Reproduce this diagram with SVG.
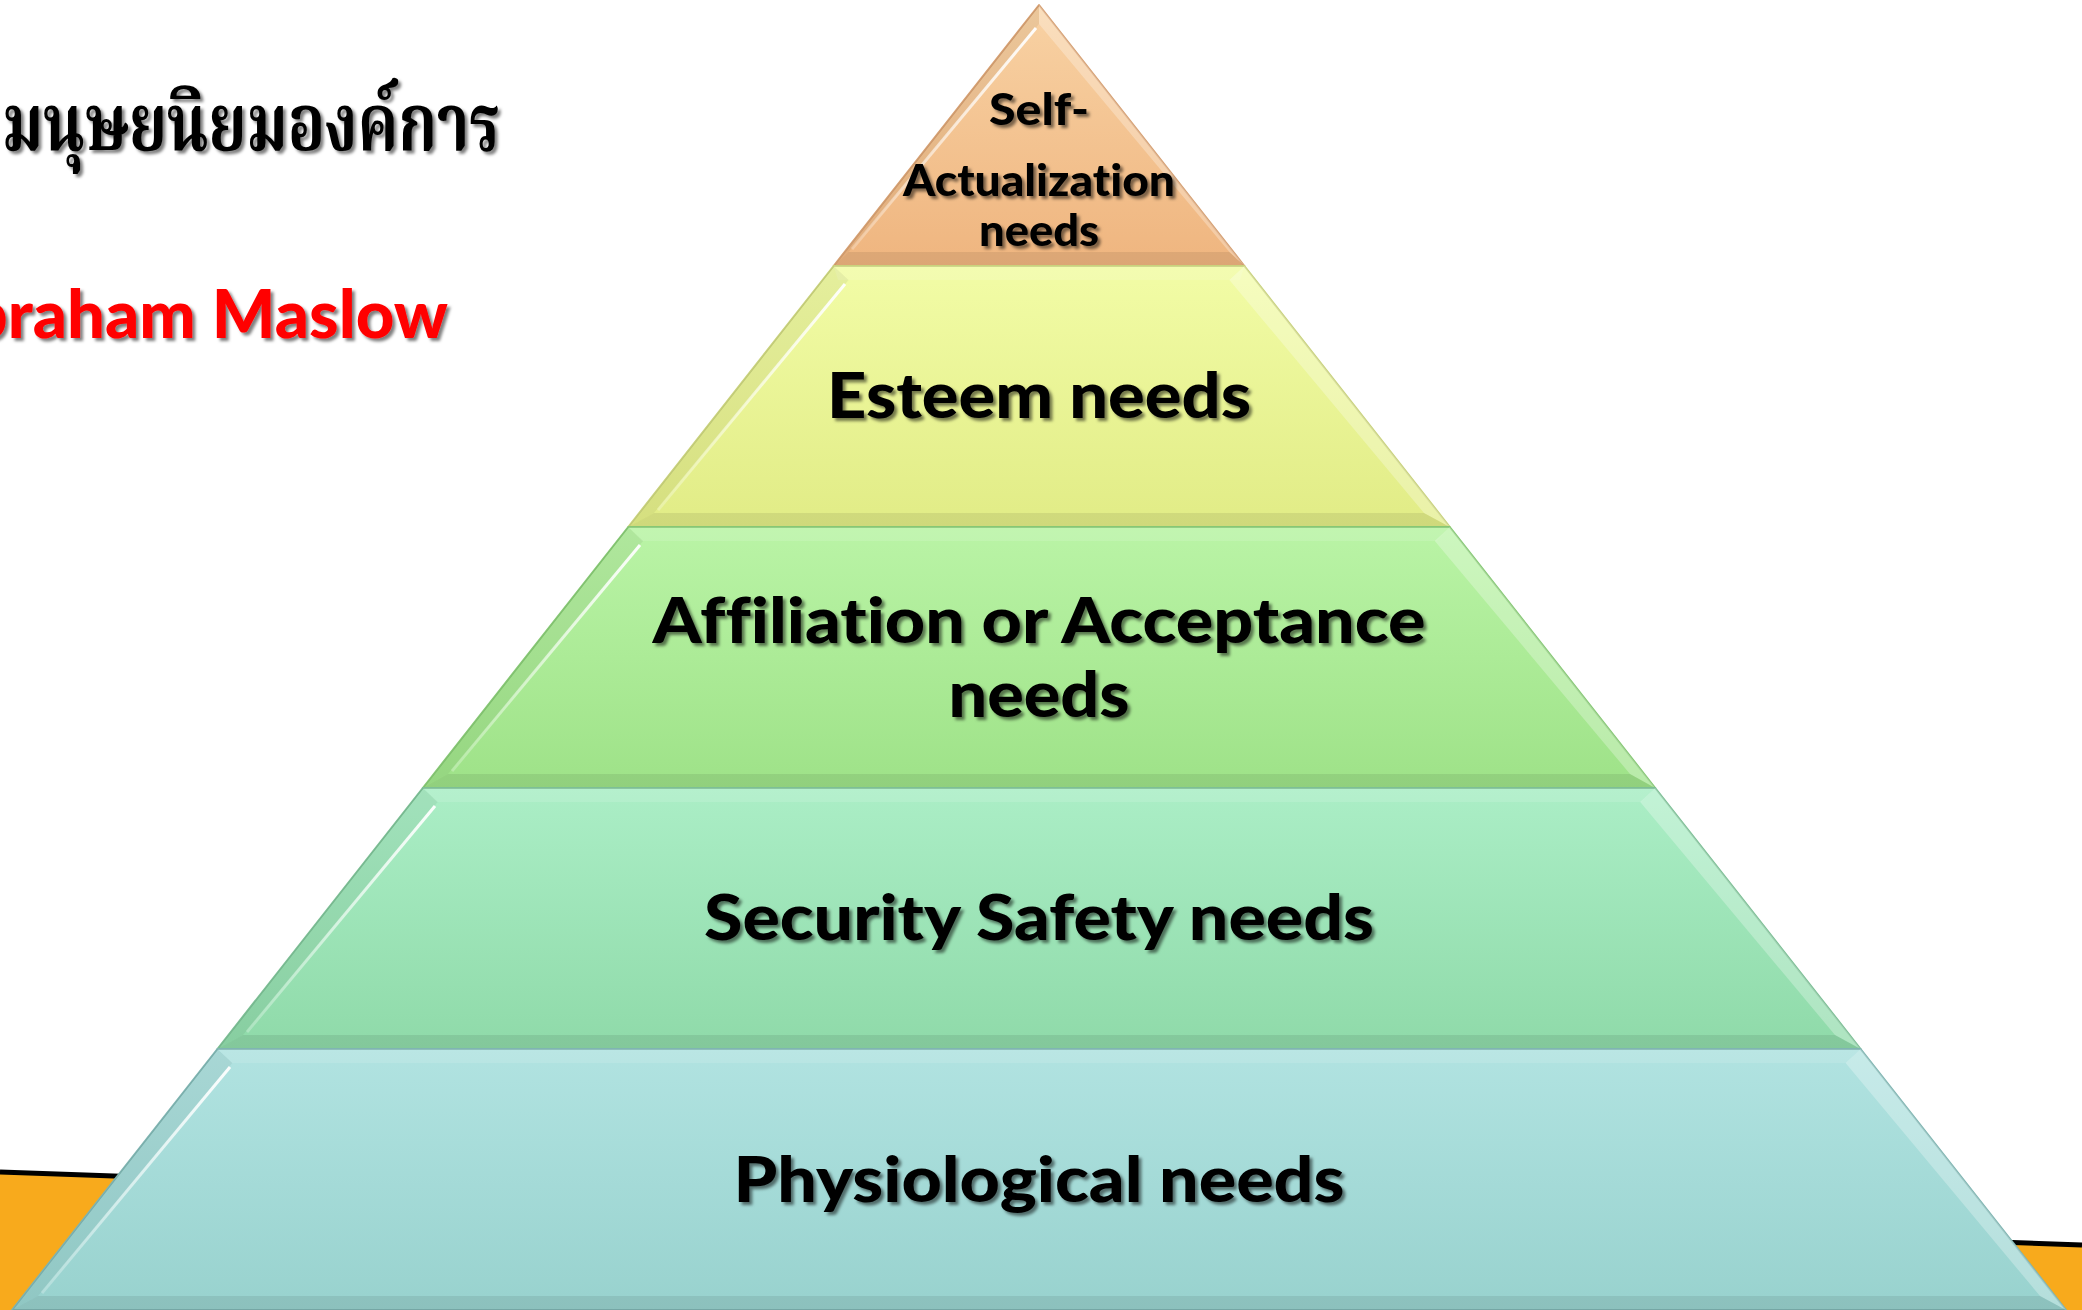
<svg xmlns="http://www.w3.org/2000/svg" width="2082" height="1310" viewBox="0 0 2082 1310">
<defs>
  <linearGradient id="gOrange" x1="0" y1="0" x2="0" y2="1"><stop offset="0" stop-color="#F8D2A4"/><stop offset="1" stop-color="#EFB57F"/></linearGradient>
  <linearGradient id="gYellow" x1="0" y1="0" x2="0" y2="1"><stop offset="0" stop-color="#F2FCA6"/><stop offset="1" stop-color="#E1EC86"/></linearGradient>
  <linearGradient id="gLime" x1="0" y1="0" x2="0" y2="1"><stop offset="0" stop-color="#BAF4A6"/><stop offset="1" stop-color="#9EE288"/></linearGradient>
  <linearGradient id="gMint" x1="0" y1="0" x2="0" y2="1"><stop offset="0" stop-color="#ABEEC6"/><stop offset="1" stop-color="#8FDAA9"/></linearGradient>
  <linearGradient id="gTeal" x1="0" y1="0" x2="0" y2="1"><stop offset="0" stop-color="#B1E3E1"/><stop offset="1" stop-color="#98D2CE"/></linearGradient>
  <linearGradient id="gHi" x1="0" y1="0" x2="0" y2="1"><stop offset="0" stop-color="#fff" stop-opacity="0.95"/><stop offset="1" stop-color="#fff" stop-opacity="0.25"/></linearGradient>
  <filter id="ts" x="-10%" y="-30%" width="120%" height="160%">
    <feDropShadow dx="3" dy="3" stdDeviation="1.8" flood-color="#000" flood-opacity="0.5"/>
  </filter>
  <style>
    .outline{stroke-width:2;stroke-linejoin:round}
    .lbevel{fill:#000;fill-opacity:0.05}
    .rbevel{fill:#fff;fill-opacity:0.28}
    .bbevel{fill:#000;fill-opacity:0.08}
    .tbevel{fill:#fff;fill-opacity:0.12}
    .hi{fill:none;stroke:url(#gHi);stroke-width:3}
    .lbl{font-family:Lato,"Liberation Sans",sans-serif;font-weight:900;fill:#000;text-anchor:middle;filter:url(#ts);font-variant-ligatures:none;font-feature-settings:"liga" 0}
    .big{font-size:62px}
    .small{font-size:44px}
  </style>
</defs>
<rect width="2082" height="1310" fill="#FFFFFF"/>
<g id="background-band">
  <polygon points="0,1172 2082,1245 2082,1310 0,1310" fill="#F8AA1C"/>
  <line x1="0" y1="1172" x2="2082" y2="1245" stroke="#000" stroke-width="5"/>
</g>
<g id="title">
  <text x="2" y="150" textLength="498" lengthAdjust="spacingAndGlyphs" font-family="'Noto Serif Thai','Noto Sans Thai','Tlwg Typo',Garuda,Loma,'DejaVu Serif',serif" font-weight="bold" font-size="80" fill="#000" filter="url(#ts)">มนุษยนิยมองค์การ</text>
  <text x="448" y="338" text-anchor="end" font-family="Lato,'Liberation Sans',sans-serif" font-weight="900" font-size="67" fill="#FF0000" filter="url(#ts)">Abraham Maslow</text>
</g>
<g id="connectors"/>
<g id="self-actualization">
  <polygon class="outline" points="1039,5 1244.4,266 833.6,266" fill="url(#gOrange)" stroke="#D6A072"/>
  <polygon class="lbevel" points="1039,5 1039,24 848.6,252 833.6,266"/>
  <polygon class="rbevel" points="1039,5 1039,24 1229.4,252 1244.4,266"/>
  <polygon class="bbevel" points="833.6,266 848.6,252 1229.4,252 1244.4,266"/>
  <line class="hi" x1="1036" y1="28" x2="852" y2="249"/>
  <text class="lbl small" x="1039" y="125" textLength="100" lengthAdjust="spacingAndGlyphs">Self-</text>
  <text class="lbl small" x="1039" y="196" textLength="272" lengthAdjust="spacingAndGlyphs">Actualization</text>
  <text class="lbl small" x="1039" y="246" textLength="120" lengthAdjust="spacingAndGlyphs">needs</text>
</g>
<g id="esteem">
  <polygon class="outline" points="833.6,266 1244.4,266 1449.8,527 628.2,527" fill="url(#gYellow)" stroke="#C9D27C"/>
  <polygon class="tbevel" points="833.6,266 1244.4,266 1240,280 838,280"/>
  <polygon class="lbevel" points="833.6,266 848.6,280 654,513 628.2,527"/>
  <polygon class="rbevel" points="1244.4,266 1229.4,280 1424,513 1449.8,527"/>
  <polygon class="bbevel" points="628.2,527 654,513 1424,513 1449.8,527"/>
  <line class="hi" x1="845" y1="284" x2="658" y2="510"/>
  <text class="lbl big" x="1039" y="418" textLength="424" lengthAdjust="spacingAndGlyphs">Esteem needs</text>
</g>
<g id="affiliation">
  <polygon class="outline" points="628.2,527 1449.8,527 1655.2,788 422.8,788" fill="url(#gLime)" stroke="#86C874"/>
  <polygon class="tbevel" points="628.2,527 1449.8,527 1436,541 642,541"/>
  <polygon class="lbevel" points="628.2,527 643.2,541 448,774 422.8,788"/>
  <polygon class="rbevel" points="1449.8,527 1434.8,541 1630,774 1655.2,788"/>
  <polygon class="bbevel" points="422.8,788 448,774 1630,774 1655.2,788"/>
  <line class="hi" x1="640" y1="545" x2="452" y2="771"/>
  <text class="lbl big" x="1039" y="643" textLength="773" lengthAdjust="spacingAndGlyphs">Affiliation or Acceptance</text>
  <text class="lbl big" x="1039" y="717" textLength="181" lengthAdjust="spacingAndGlyphs">needs</text>
</g>
<g id="security">
  <polygon class="outline" points="422.8,788 1655.2,788 1860.6,1049 217.4,1049" fill="url(#gMint)" stroke="#7CBF95"/>
  <polygon class="tbevel" points="422.8,788 1655.2,788 1641,802 437,802"/>
  <polygon class="lbevel" points="422.8,788 437.8,802 243,1035 217.4,1049"/>
  <polygon class="rbevel" points="1655.2,788 1640.2,802 1835,1035 1860.6,1049"/>
  <polygon class="bbevel" points="217.4,1049 243,1035 1835,1035 1860.6,1049"/>
  <line class="hi" x1="435" y1="806" x2="247" y2="1032"/>
  <text class="lbl big" x="1039" y="940" textLength="670" lengthAdjust="spacingAndGlyphs">Security Safety needs</text>
</g>
<g id="physiological">
  <polygon class="outline" points="217.4,1049 1860.6,1049 2066,1310 12,1310" fill="url(#gTeal)" stroke="#7FB5B2"/>
  <polygon class="tbevel" points="217.4,1049 1860.6,1049 1846,1063 232,1063"/>
  <polygon class="lbevel" points="217.4,1049 232.4,1063 38,1296 12,1310"/>
  <polygon class="rbevel" points="1860.6,1049 1845.6,1063 2040,1296 2066,1310"/>
  <polygon class="bbevel" points="12,1310 38,1296 2040,1296 2066,1310"/>
  <line class="hi" x1="230" y1="1067" x2="42" y2="1293"/>
  <text class="lbl big" x="1039" y="1202" textLength="611" lengthAdjust="spacingAndGlyphs">Physiological needs</text>
</g>
</svg>
